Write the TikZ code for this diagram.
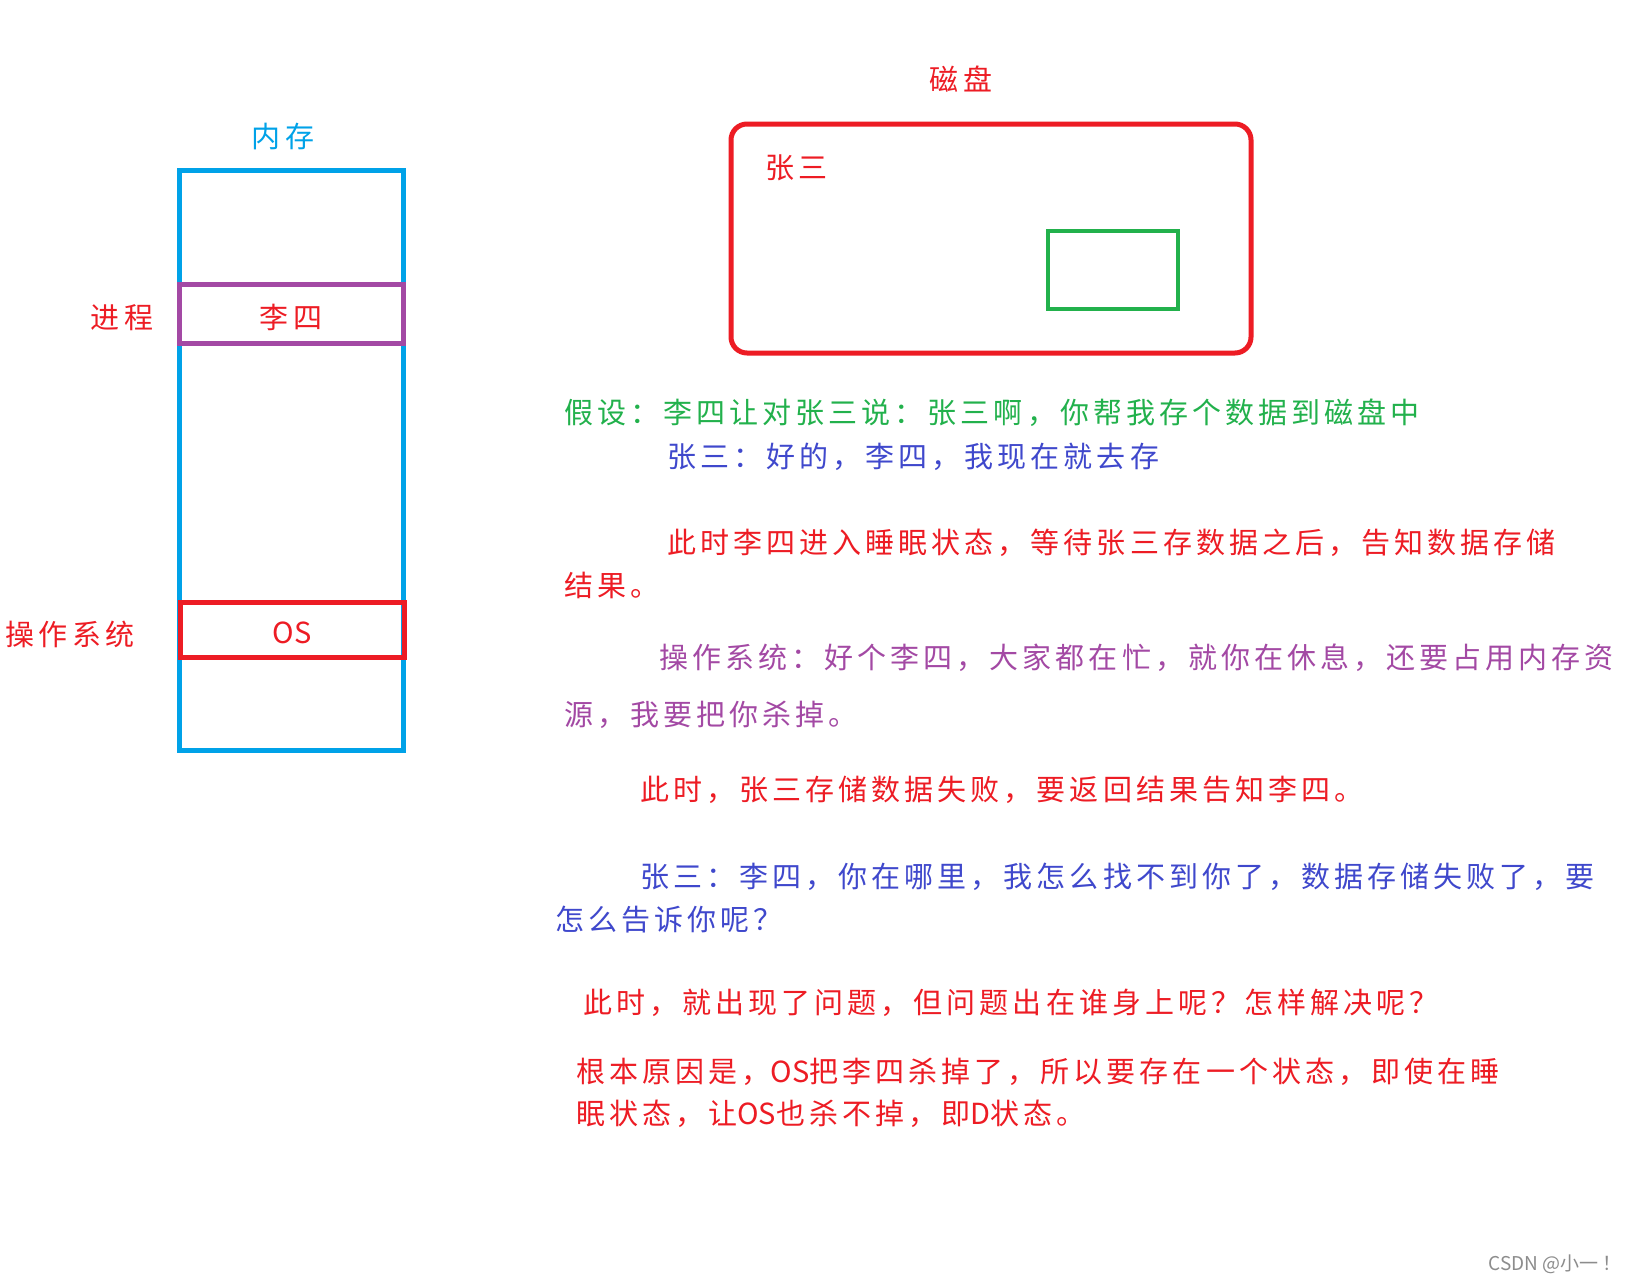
\documentclass[tikz,border=0pt]{standalone}
\usepackage{fontspec}
\newfontfamily\cjk[LetterSpace=14]{Noto Sans CJK SC}
\newfontfamily\cjkn{Noto Sans CJK SC}
\definecolor{mblue}{RGB}{0,162,232}
\definecolor{mred}{RGB}{237,28,36}
\definecolor{mgreen}{RGB}{34,177,76}
\definecolor{mpurple}{RGB}{163,73,164}
\definecolor{tblue}{RGB}{63,72,204}
\definecolor{tpurple}{RGB}{163,73,164}
\tikzset{
  txt/.style={inner sep=0pt, anchor=west, font=\cjk\fontsize{29}{34}\selectfont},
  lbl/.style={inner sep=0pt, font=\cjk\fontsize{29}{34}\selectfont},
  boxline/.style={line width=5pt},
}
\begin{document}
\begin{tikzpicture}[x=1pt,y=-1pt]
\useasboundingbox[fill=white] (0,0) rectangle (1633,1282);
% memory
\node[lbl, text=mblue] (memlbl) at (283,137) {内存};
\draw[boxline, draw=mblue] (179,170) rectangle (403,750);
\node[draw=mpurple, line width=5pt, minimum width=224pt, minimum height=59pt, inner sep=0pt] (lisi) at (291,314) {};
\node[lbl, text=mred] at ([yshift=-3pt]lisi.center) {李四};
\node[lbl, text=mred] (proc) at (122,318) {进程};
\node[draw=mred, line width=5pt, minimum width=224pt, minimum height=55pt, inner sep=0pt] (os) at (292,630) {};
\node[lbl, text=mred, font=\cjkn\fontsize{29}{34}\selectfont] at ([yshift=-3pt]os.center) {OS};
\node[lbl, text=mred] (oslbl) at (70,634) {操作系统};
% disk
\node[lbl, text=mred] (disklbl) at (961,79) {磁盘};
\draw[boxline, draw=mred, rounded corners=16pt] (731,124) rectangle (1251,353);
\node[lbl, text=mred, anchor=west] (zs) at (765,168) {张三};
\draw[line width=4.5pt, draw=mgreen] (1048,231) rectangle (1178,309);
% story text
\node[txt, text=mgreen] (t1) at (564,413) {假设：李四让对张三说：张三啊，你帮我存个数据到磁盘中};
\node[txt, text=tblue] (t2) at (667,457) {张三：好的，李四，我现在就去存};
\node[txt, text=mred] (t3) at (667,543) {此时李四进入睡眠状态，等待张三存数据之后，告知数据存储};
\node[txt, text=mred] (t4) at (564,585) {结果。};
\node[txt, text=tpurple] (t5) at (659,658) {操作系统：好个李四，大家都在忙，就你在休息，还要占用内存资};
\node[txt, text=tpurple] (t6) at (564,715) {源，我要把你杀掉。};
\node[txt, text=mred] (t7) at (640,790) {此时，张三存储数据失败，要返回结果告知李四。};
\node[txt, text=tblue] (t8) at (640,877) {张三：李四，你在哪里，我怎么找不到你了，数据存储失败了，要};
\node[txt, text=tblue] (t9) at (555,920) {怎么告诉你呢？};
\node[txt, text=mred] (t10) at (583,1003) {此时，就出现了问题，但问题出在谁身上呢？怎样解决呢？};
\node[txt, text=mred] (t11) at (576,1072) {根本原因是，{\cjkn OS}把李四杀掉了，所以要存在一个状态，即使在睡};
\node[txt, text=mred] (t12) at (576,1114) {眠状态，让{\cjkn OS}也杀不掉，即{\cjkn D}状态。};
% watermark
\node[inner sep=0pt, anchor=east, text=black!45, font=\cjkn\fontsize{19}{22}\selectfont] (wm) at (1622,1264) {CSDN @小一 ！};
\end{tikzpicture}
\end{document}
